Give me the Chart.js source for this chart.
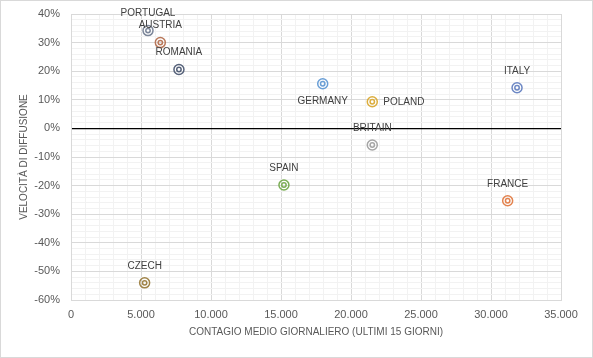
<!DOCTYPE html>
<html>
<head>
<meta charset="utf-8">
<script src="https://cdn.jsdelivr.net/npm/chart.js@4/dist/chart.umd.min.js"></script>
<style>
  html, body { margin: 0; padding: 0; background: #ffffff; }
  #wrap { width: 593px; height: 358px; position: relative; }
</style>
</head>
<body>
<div id="wrap"><canvas id="c" width="593" height="358"></canvas></div>
<script>
// ---- Data ----
const countries = ["PORTUGAL", "AUSTRIA", "ROMANIA", "GERMANY", "POLAND", "BRITAIN", "ITALY", "FRANCE", "SPAIN", "CZECH"];
const contagioMedio = [5500, 6380, 7710, 17980, 21520, 21520, 31860, 31190, 15210, 5260];
const velocitaDiffusione = [34.2, 30.0, 20.6, 15.6, 9.3, -5.8, 14.2, -25.3, -19.8, -54.0];
const xTickStep = 5000;
const yTickStep = 10;

// ---- Styles ----
const markerColors = ["#7d879a", "#b9785a", "#56627a", "#6a9fd6", "#dcae3e", "#a5a5a5", "#6c87c4", "#e3834f", "#7bae55", "#a08449"];
const labelPlacement = ["top", "top", "top", "bottom", "right", "top", "top", "top", "top", "top"];

const points = countries.map((c, i) => ({ x: contagioMedio[i], y: velocitaDiffusione[i] }));

const bgPlugin = {
  id: 'bg',
  beforeDraw(chart) {
    const ctx = chart.ctx;
    ctx.save();
    ctx.fillStyle = '#ffffff';
    ctx.fillRect(0, 0, chart.width, chart.height);
    ctx.strokeStyle = '#d9d9d9';
    ctx.lineWidth = 1;
    ctx.strokeRect(0.5, 0.5, chart.width - 1, chart.height - 1);
    ctx.restore();
  }
};

const markerPlugin = {
  id: 'markers',
  afterDatasetsDraw(chart) {
    const ctx = chart.ctx;
    const meta = chart.getDatasetMeta(0);
    ctx.save();
    meta.data.forEach((pt, i) => {
      ctx.beginPath();
      ctx.strokeStyle = markerColors[i];
      ctx.lineWidth = 1.5;
      ctx.arc(pt.x, pt.y, 2.2, 0, Math.PI * 2);
      ctx.stroke();
      // label
      ctx.font = "10px 'Liberation Sans', Arial, sans-serif";
      ctx.fillStyle = '#404040';
      ctx.textBaseline = 'middle';
      const pos = labelPlacement[i];
      if (pos === 'top') {
        ctx.textAlign = 'center';
        ctx.fillText(countries[i], pt.x, pt.y - 17);
      } else if (pos === 'bottom') {
        ctx.textAlign = 'center';
        ctx.fillText(countries[i], pt.x, pt.y + 17);
      } else {
        ctx.textAlign = 'left';
        ctx.fillText(countries[i], pt.x + 11, pt.y);
      }
    });
    ctx.restore();
  }
};

new Chart(document.getElementById('c'), {
  type: 'scatter',
  data: {
    datasets: [{
      label: 'Paesi',
      data: points,
      pointRadius: 5,
      pointHoverRadius: 5,
      pointBorderWidth: 1.5,
      pointBorderColor: markerColors,
      pointBackgroundColor: 'rgba(255,255,255,0)'
    }]
  },
  options: {
    responsive: false,
    animation: false,
    events: [],
    layout: { padding: { top: 14, right: 32, left: 0, bottom: 0 } },
    plugins: { legend: { display: false }, tooltip: { enabled: false } },
    scales: {
      x: {
        type: 'linear',
        min: 0,
        max: 35000,
        afterFit(s) { s.height = 58; s.paddingLeft = 0; s.paddingRight = 0; },
        border: { color: '#d9d9d9' },
        grid: {
          drawTicks: false,
          color: (c) => (c.tick && c.tick.value % xTickStep === 0) ? '#d9d9d9' : '#f2f2f2'
        },
        ticks: {
          stepSize: 1000,
          autoSkip: false,
          maxRotation: 0,
          maxTicksLimit: 100,
          padding: 8,
          color: '#595959',
          font: { family: "'Liberation Sans', Arial, sans-serif", size: 11 },
          callback: (v) => v % xTickStep === 0 ? (v === 0 ? '0' : (v / 1000) + '.000') : ''
        },
        title: {
          display: true,
          text: 'CONTAGIO MEDIO GIORNALIERO (ULTIMI 15 GIORNI)',
          color: '#595959',
          font: { family: "'Liberation Sans', Arial, sans-serif", size: 10 },
          padding: { top: 0, bottom: 20 }
        }
      },
      y: {
        type: 'linear',
        min: -60,
        max: 40,
        afterFit(s) { s.width = 71; s.paddingTop = 0; s.paddingBottom = 0; },
        border: { color: '#d9d9d9' },
        grid: {
          drawTicks: false,
          color: (c) => {
            if (!c.tick) return '#f2f2f2';
            const v = Math.round(c.tick.value);
            if (v === 0) return '#000000';
            return v % yTickStep === 0 ? '#d9d9d9' : '#f2f2f2';
          },
          lineWidth: (c) => (c.tick && Math.round(c.tick.value) === 0) ? 1.3 : 1
        },
        ticks: {
          stepSize: 2,
          autoSkip: false,
          maxTicksLimit: 100,
          padding: 11,
          color: '#595959',
          font: { family: "'Liberation Sans', Arial, sans-serif", size: 11 },
          callback: (v) => { const r = Math.round(v); return r % yTickStep === 0 ? r + '%' : ''; }
        },
        title: {
          display: true,
          text: 'VELOCITÀ DI DIFFUSIONE',
          color: '#595959',
          font: { family: "'Liberation Sans', Arial, sans-serif", size: 10 },
          padding: { top: 18, bottom: 0 }
        }
      }
    }
  },
  plugins: [bgPlugin, markerPlugin]
});
</script>
</body>
</html>
